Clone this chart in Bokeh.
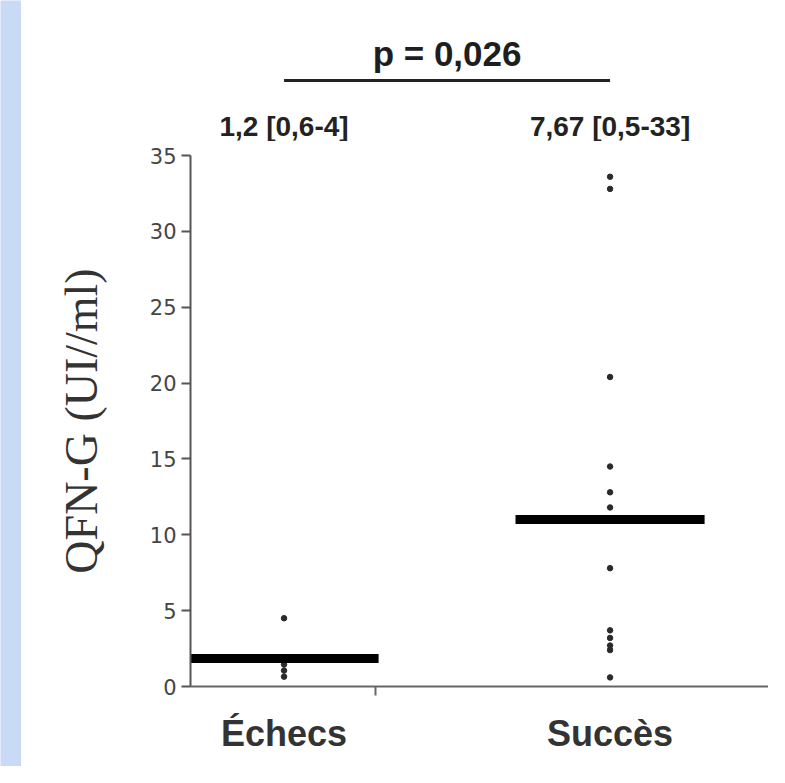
from bokeh.plotting import figure
from bokeh.models import Range1d, FixedTicker
from bokeh.layouts import column, row
from bokeh.core.properties import value
from bokeh.embed import file_html
from bokeh.resources import INLINE

# ---- data ----
groups = ["Échecs", "Succès"]
group_pos = [1, 2]
echecs_values = [4.5, 1.45, 1.05, 0.65]
succes_values = [33.6, 32.8, 20.4, 14.5, 12.8, 11.8, 7.8, 3.7, 3.2, 2.7, 2.4, 0.6]
means = [1.85, 11.0]
summary_labels = ["1,2 [0,6-4]", "7,67 [0,5-33]"]
p_value_label = "p = 0,026"
y_ticks = [0, 5, 10, 15, 20, 25, 30, 35]
y_label = "QFN-G (UI//ml)"

STRIP = 21
W = 768 - STRIP
PAD = 14                      # room above the 35 tick for its label
HDR_H, MAIN_H = 155 - PAD, 611 + PAD
LEFT = 190 - STRIP
PX_PER_UNIT = 531 / 35.0

x_range = Range1d(0.713, 2.486)

# ---- decorative slide strip on the left ----
strip = figure(width=STRIP, height=HDR_H + MAIN_H, output_backend="svg",
               toolbar_location=None, min_border=0)
strip.axis.visible = False
strip.grid.visible = False
strip.outline_line_color = None
strip.background_fill_color = "#c8daf5"
strip.border_fill_color = "#c8daf5"

# ---- header panel (significance bar + group summaries) ----
hdr = figure(width=W, height=HDR_H, output_backend="svg", toolbar_location=None,
             x_range=x_range,
             y_range=Range1d(35 + PAD / PX_PER_UNIT, 35 + 155 / PX_PER_UNIT),
             min_border_left=LEFT, min_border_right=0, min_border_top=0,
             min_border_bottom=0)
hdr.axis.visible = False
hdr.grid.visible = False
hdr.outline_line_color = None
hdr.segment(x0=[group_pos[0]], x1=[group_pos[1]], y0=[39.95], y1=[39.95],
            line_width=3, line_color="#222222")
hdr.text(x=[(group_pos[0] + group_pos[1]) / 2], y=[41.75], text=[p_value_label],
         text_align="center", text_baseline="middle",
         text_font=value("Liberation Sans"), text_font_style="bold",
         text_font_size="35px", text_color="#1e1e1e")
hdr.text(x=group_pos, y=[36.9, 36.9], text=summary_labels,
         text_align="center", text_baseline="middle",
         text_font=value("Liberation Sans"), text_font_style="bold",
         text_font_size="28px", text_color="#222222")

# ---- main plot ----
p = figure(width=W, height=MAIN_H, output_backend="svg", toolbar_location=None,
           x_range=x_range, y_range=Range1d(0, 35),
           min_border_left=LEFT, min_border_right=0, min_border_top=PAD,
           min_border_bottom=MAIN_H - PAD - 531)
p.outline_line_color = None
p.grid.visible = False

xs = [group_pos[0]] * len(echecs_values) + [group_pos[1]] * len(succes_values)
ys = echecs_values + succes_values
p.scatter(xs, ys, size=5.5, marker="circle", color="#2a2a2a")

half = 0.29
p.segment(x0=[g - half for g in group_pos], x1=[g + half for g in group_pos],
          y0=means, y1=means, line_width=9, line_color="black", line_cap="butt")

ya = p.yaxis[0]
ya.ticker = FixedTicker(ticks=y_ticks, minor_ticks=[])
ya.axis_line_color = "#555555"
ya.axis_line_width = 2
ya.major_tick_line_color = "#555555"
ya.major_tick_line_width = 2
ya.major_tick_out = 9
ya.major_tick_in = 0
ya.major_label_standoff = 5
ya.major_label_text_font = "DejaVu Sans"
ya.major_label_text_font_size = "21px"
ya.major_label_text_color = "#454545"
ya.axis_label = y_label
ya.axis_label_text_font = "Liberation Serif"
ya.axis_label_text_font_style = "normal"
ya.axis_label_text_font_size = "46px"
ya.axis_label_text_color = "#333333"
ya.axis_label_standoff = 40

xa = p.xaxis[0]
xa.ticker = FixedTicker(ticks=group_pos, minor_ticks=[1.28])
xa.major_label_overrides = {g: lab for g, lab in zip(group_pos, groups)}
xa.axis_line_color = "#666666"
xa.axis_line_width = 2
xa.major_tick_out = 0
xa.major_tick_in = 0
xa.minor_tick_out = 9
xa.minor_tick_in = 0
xa.minor_tick_line_color = "#666666"
xa.minor_tick_line_width = 2
xa.major_label_standoff = 17
xa.major_label_text_font = "Liberation Sans"
xa.major_label_text_font_style = "bold"
xa.major_label_text_font_size = "36px"
xa.major_label_text_color = "#333333"

layout = row(strip, column(hdr, p, spacing=0), spacing=0)
open("out.html", "w").write(file_html(layout, INLINE))
